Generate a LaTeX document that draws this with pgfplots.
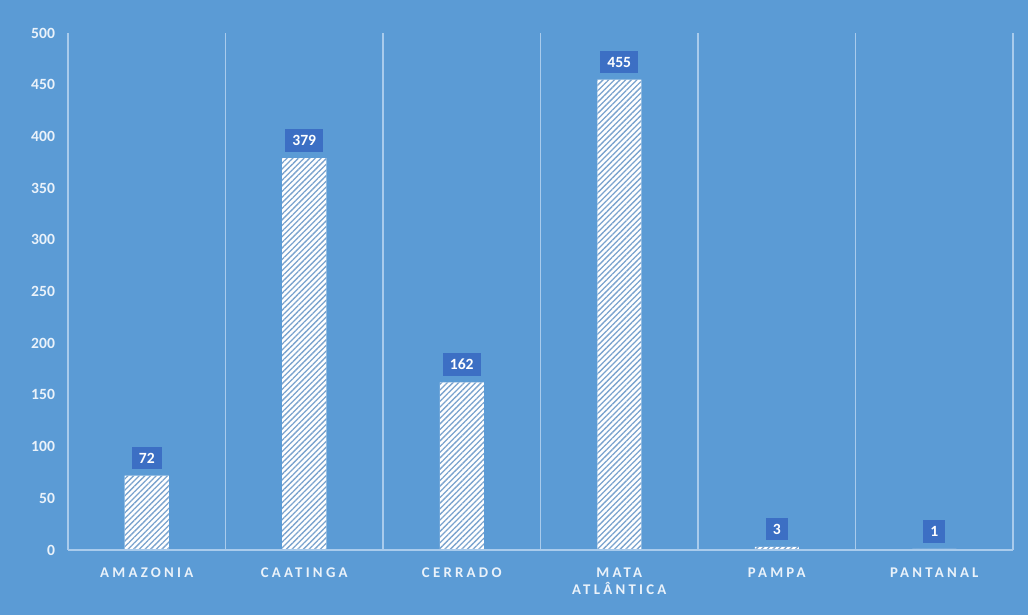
\documentclass[border=0pt]{standalone}
\usepackage{fontspec}
\setmainfont{Carlito}
\newfontfamily\spaced[LetterSpace=22]{Carlito}
\usepackage{pgfplots}
\pgfplotsset{compat=1.18}
\usetikzlibrary{patterns.meta}
\definecolor{bg}{HTML}{5B9BD5}
\definecolor{gridc}{HTML}{A9CBEC}
\definecolor{lab}{HTML}{3C6FC4}
\definecolor{stripe}{HTML}{7AA3CE}
\definecolor{ticktxt}{HTML}{EAF2FA}
\begin{document}
\begin{tikzpicture}
\fill[bg] (0,0) rectangle (514pt,307.5pt);
\useasboundingbox (0,0) rectangle (514pt,307.5pt);
\begin{axis}[
  at={(34pt,32.5pt)}, anchor=south west,
  scale only axis, width=472.5pt, height=258.5pt,
  xmin=-0.5, xmax=5.5, ymin=0, ymax=500,
  ytick={0,50,...,500},
  xtick={0,...,5},
  xticklabels={AMAZONIA,CAATINGA,CERRADO,MATA\\ATLÂNTICA,PAMPA,PANTANAL},
  minor xtick={-0.5,0.5,...,5.5},
  xminorgrids=true,
  minor grid style={gridc, line width=0.6pt},
  axis line style={draw=none},
  major tick length=0pt, minor tick length=0pt,
  /pgf/number format/assume math mode=true,
  yticklabel style={font=\fontsize{7.8}{9}\selectfont\bfseries, text=ticktxt, xshift=-3pt},
  xticklabel style={font=\fontsize{7.4}{8.3}\selectfont\bfseries\spaced, text=ticktxt, align=center, yshift=-5.5pt},
  clip=false,
]
\addplot[ybar, bar width=22pt, draw=none, fill=white,
  postaction={pattern={Lines[angle=45, distance=2pt, line width=0.65pt]}, pattern color=stripe},
  nodes near coords,
  nodes near coords style={fill=lab, text=white, font=\fontsize{7.8}{9}\selectfont\bfseries, inner xsep=3.5pt, inner ysep=3pt, anchor=south, yshift=3pt},
] coordinates {(0,72) (1,379) (2,162) (3,455) (4,3) (5,1)};
\draw[gridc, line width=0.8pt] (axis cs:-0.5,0) -- (axis cs:5.5,0);
\end{axis}
\end{tikzpicture}
\end{document}
